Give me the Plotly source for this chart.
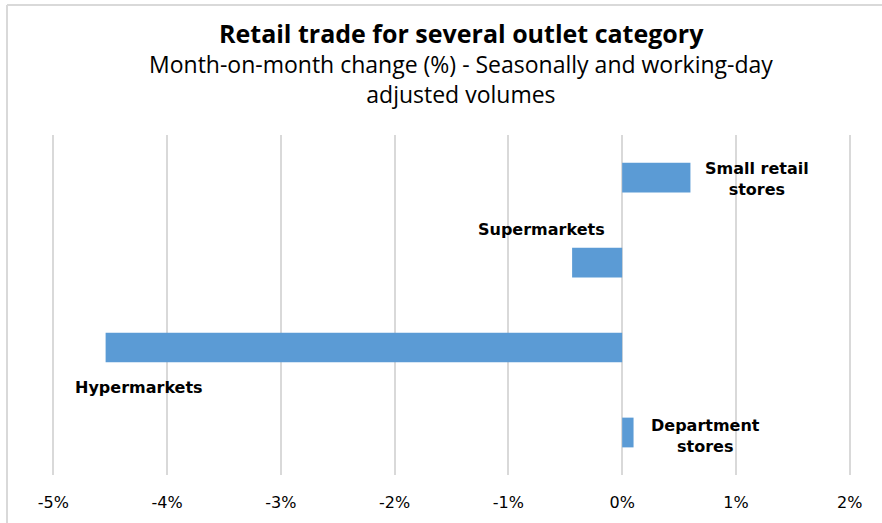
import plotly.graph_objects as go

categories = ["Small retail stores", "Supermarkets", "Hypermarkets", "Department stores"]
values = [0.60, -0.44, -4.54, 0.10]
label_text = ["Small retail<br>stores", "Supermarkets", "Hypermarkets", "Department<br>stores"]
label_x = [1.185, -0.71, -4.25, 0.73]
label_yshift = [-1, 33, -40, -3]
tick_vals = [-5, -4, -3, -2, -1, 0, 1, 2]
tick_text = ["-5%", "-4%", "-3%", "-2%", "-1%", "0%", "1%", "2%"]

W, H = 882, 523
l, r, t, b = 51, 30, 135, 48
pw, ph = W - l - r, H - t - b


def px(xp):
    return (xp - l) / pw


def py(yp):
    return (H - b - yp) / ph


fig = go.Figure()
fig.add_trace(go.Bar(
    y=categories, x=values, orientation="h",
    marker=dict(color="#5b9bd5", line=dict(width=0)),
    width=0.35, hoverinfo="skip",
))

for txt, x, y, ys in zip(label_text, label_x, categories, label_yshift):
    fig.add_annotation(x=x, y=y, xref="x", yref="y", text="<b>" + txt + "</b>",
                       showarrow=False, yshift=ys, align="center",
                       font=dict(family="DejaVu Sans", size=16, color="#000000"))

fig.add_annotation(x=px(461), y=py(33), xref="paper", yref="paper",
                   text="<b>Retail trade for several outlet category</b>", showarrow=False,
                   xanchor="center", yanchor="middle",
                   font=dict(family="Open Sans", size=25, color="#000000"))
fig.add_annotation(x=px(461), y=py(79), xref="paper", yref="paper",
                   text="Month-on-month change (%) - Seasonally and working-day<br>adjusted volumes",
                   showarrow=False, align="center",
                   xanchor="center", yanchor="middle",
                   font=dict(family="Open Sans", size=23, color="#000000"))

fig.update_layout(
    width=W, height=H,
    margin=dict(l=l, r=r, t=t, b=b),
    paper_bgcolor="white", plot_bgcolor="white",
    showlegend=False, bargap=0.65,
    xaxis=dict(range=[-5.02, 2.02], tickvals=tick_vals, ticktext=tick_text,
               showgrid=True, gridcolor="#d9d9d9", gridwidth=1.5,
               zeroline=True, zerolinecolor="#d9d9d9", zerolinewidth=1.5,
               showline=False, ticks="", ticklabelstandoff=16,
               tickfont=dict(family="DejaVu Sans", size=16, color="#000000")),
    yaxis=dict(autorange="reversed", showticklabels=False, showgrid=False,
               zeroline=False, showline=False, ticks=""),
)

# chart border (light gray)
fig.add_shape(type="line", xref="paper", yref="paper", x0=px(7), x1=px(7), y0=py(5), y1=py(530),
              line=dict(color="#d9d9d9", width=2))
fig.add_shape(type="line", xref="paper", yref="paper", x0=px(7), x1=px(890), y0=py(5), y1=py(5),
              line=dict(color="#d9d9d9", width=2))

fig.write_html("out.html")
